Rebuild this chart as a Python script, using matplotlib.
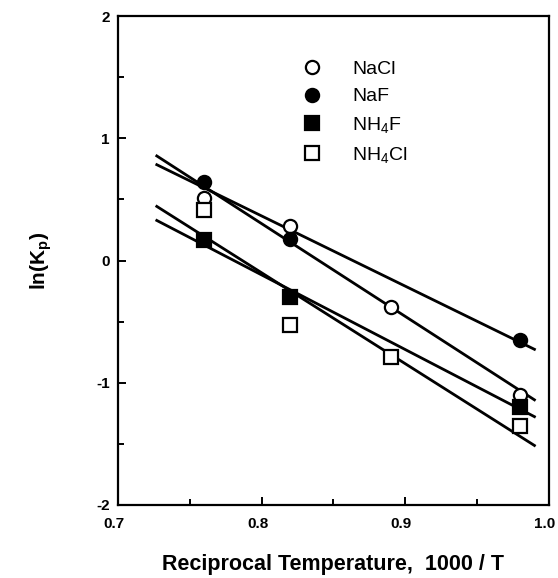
import numpy as np
import matplotlib
matplotlib.use("Agg")
import matplotlib.pyplot as plt
import matplotlib.transforms as mtransforms
from matplotlib.ticker import FixedLocator

plt.rcParams["font.family"] = ["Liberation Sans", "DejaVu Sans"]
plt.rcParams["mathtext.fontset"] = "custom"
plt.rcParams["mathtext.rm"] = "Liberation Sans"
plt.rcParams["mathtext.bf"] = "Liberation Sans:bold"
plt.rcParams["mathtext.default"] = "regular"
plt.rcParams["axes.unicode_minus"] = False

# datos
x_nacl = [0.76, 0.82, 0.89, 0.98]
y_nacl = [0.51, 0.28, -0.38, -1.10]

x_naf = [0.76, 0.82, 0.98]
y_naf = [0.645, 0.18, -0.65]

x_nh4f = [0.76, 0.82, 0.98]
y_nh4f = [0.17, -0.30, -1.20]

x_nh4cl = [0.76, 0.82, 0.89, 0.98]
y_nh4cl = [0.41, -0.53, -0.79, -1.35]

fit_range = [0.727, 0.99]

x_ticks = [0.7, 0.8, 0.9, 1.0]
y_ticks = [-2, -1, 0, 1, 2]

series = [
    ("NaCl", x_nacl, y_nacl, "o", "white"),
    ("NaF", x_naf, y_naf, "o", "black"),
    ("NH$_4$F", x_nh4f, y_nh4f, "s", "black"),
    ("NH$_4$Cl", x_nh4cl, y_nh4cl, "s", "white"),
]

fig = plt.figure(figsize=(5.58, 5.78), dpi=100)
ax = fig.add_axes([0.2115, 0.1263, 0.772, 0.846])

# rectas de ajuste (minimos cuadrados) + puntos
xf = np.array(fit_range)
handles = []
for name, xs, ys, mk, fc in series:
    slope, icpt = np.polyfit(xs, ys, 1)
    ax.plot(xf, slope * xf + icpt, color="black", lw=2.0, zorder=2)
    h, = ax.plot(xs, ys, ls="none", marker=mk, ms=9.5, mfc=fc, mec="black",
                 mew=1.6, zorder=3, label=name)
    handles.append(h)

ax.set_xlim(0.7, 1.0)
ax.set_ylim(-2, 2)
ax.xaxis.set_major_locator(FixedLocator(x_ticks))
ax.xaxis.set_minor_locator(FixedLocator([0.75, 0.85, 0.95]))
ax.yaxis.set_major_locator(FixedLocator(y_ticks))
ax.yaxis.set_minor_locator(FixedLocator([-1.5, -0.5, 0.5, 1.5]))
ax.set_xticklabels([f"{v:.1f}" for v in x_ticks])
ax.set_yticklabels([str(v) for v in y_ticks])
ax.tick_params(which="both", direction="in", top=False, right=False, width=1.4)
ax.tick_params(which="major", length=6, labelsize=11)
ax.tick_params(axis="x", which="major", pad=9)
ax.tick_params(axis="y", which="major", pad=6)
ax.tick_params(which="minor", length=4)
shift = mtransforms.ScaledTranslation(-4 / 100, 0, fig.dpi_scale_trans)
for lab in ax.get_xticklabels():
    lab.set_fontweight("bold")
    lab.set_transform(lab.get_transform() + shift)
for lab in ax.get_yticklabels():
    lab.set_fontweight("bold")
for sp in ax.spines.values():
    sp.set_linewidth(1.6)

ax.set_xlabel("Reciprocal Temperature,  1000 / T", fontsize=15.5,
              fontweight="bold", labelpad=16)
ax.set_ylabel(r"$\bf{ln(K_p)}$", fontsize=15, labelpad=30)

ax.legend(handles=handles, loc="upper left", bbox_to_anchor=(0.41, 0.925),
          frameon=False, fontsize=14, handlelength=1.0, handletextpad=1.55,
          labelspacing=0.5, borderaxespad=0)

fig.savefig("out.png", dpi=100)
